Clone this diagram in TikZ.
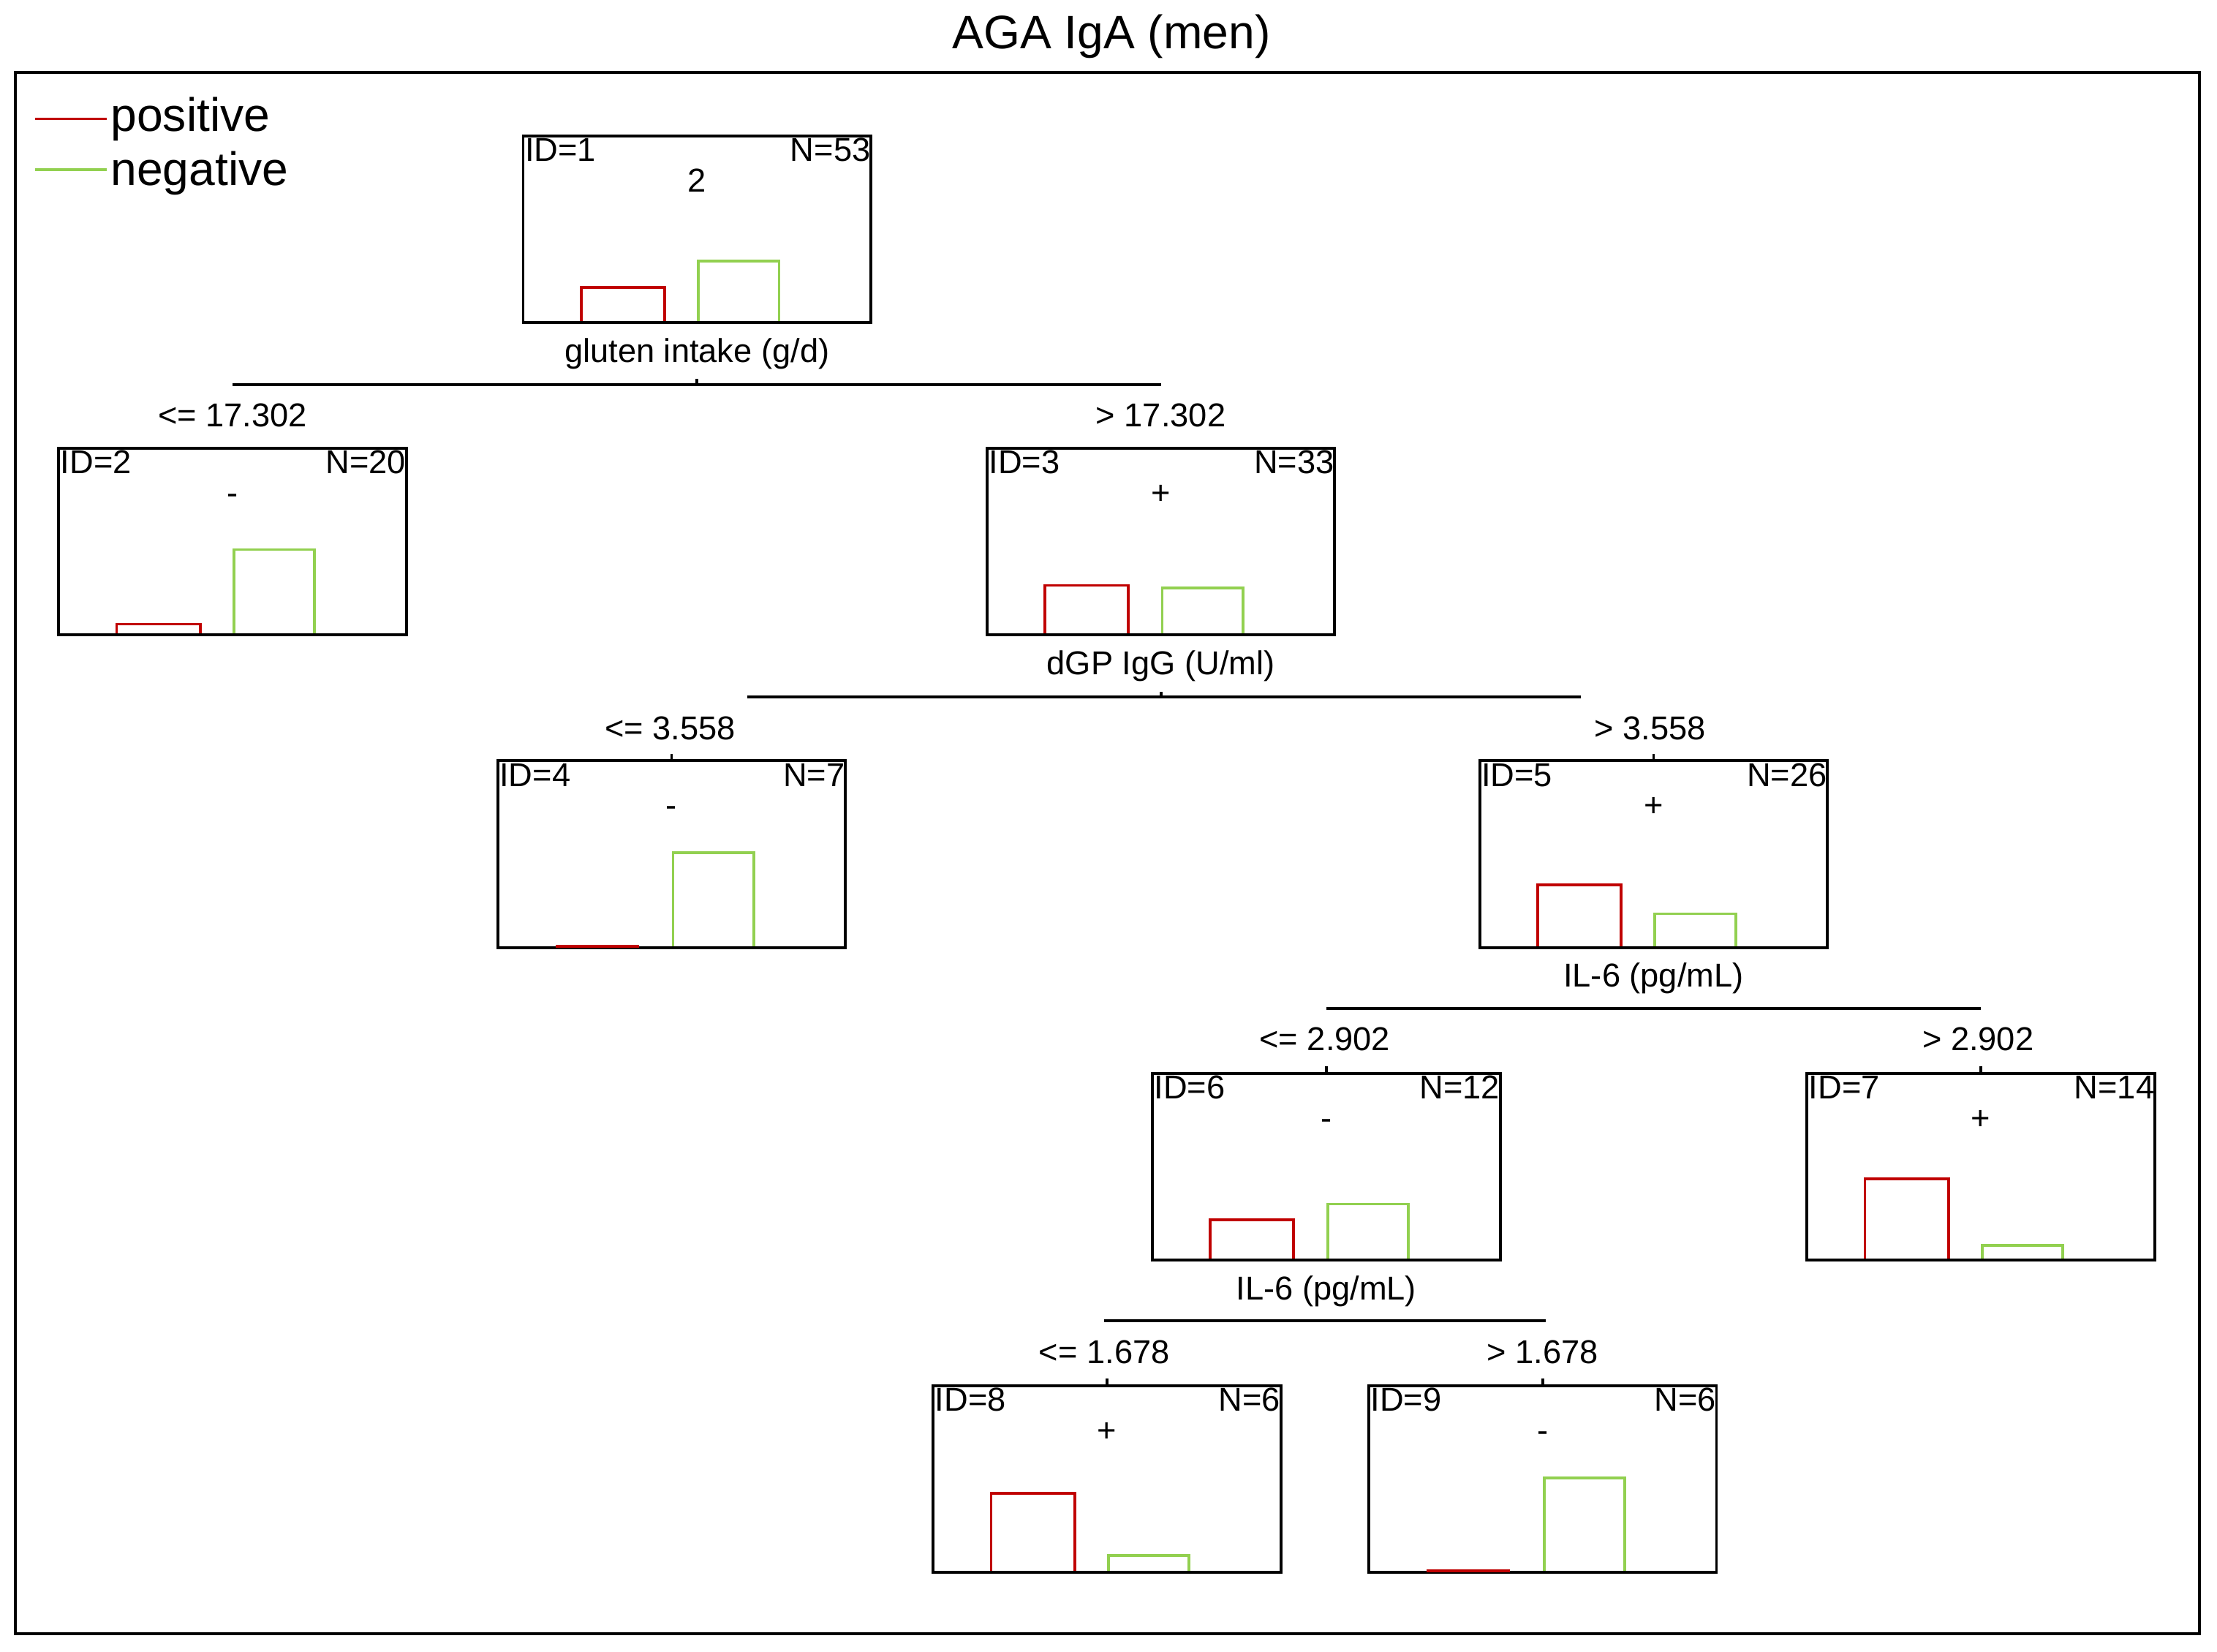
\documentclass[tikz,border=0pt]{standalone}
\usepackage{fontspec}
\setmainfont{Liberation Sans}
\usetikzlibrary{positioning}
\definecolor{posred}{RGB}{192,0,0}
\definecolor{neggreen}{RGB}{146,208,80}
\tikzset{
  leaf/.style={draw, line width=1pt, minimum width=123pt, minimum height=66pt, inner sep=0pt, anchor=north},
  lbl/.style={font=\fontsize{11.7}{14}\selectfont, inner sep=0pt},
  bigtxt/.style={font=\fontsize{16.6}{20}\selectfont, inner sep=0pt},
  split/.style={line width=1pt},
  bar/.style={line width=1pt},
}
\begin{document}
\begin{tikzpicture}[x=0.5pt,y=0.5pt,yscale=-1,xscale=1]
\useasboundingbox (0,0) rectangle (1568,1168);
%Title and frame
\node[bigtxt, anchor=base] (title) at (786,34.5) {AGA IgA (men)};
\draw[line width=1pt] (10.7,51) rectangle (1555.5,1155.5);
%Legend
\coordinate (lp0) at (25,84); \coordinate (lp1) at (75.5,84);
\coordinate (ln0) at (25,120); \coordinate (ln1) at (75.5,120);
\draw[bar, posred] (lp0) -- (lp1);
\draw[bar, neggreen] (ln0) -- (ln1);
\node[bigtxt, anchor=base west] (lpos) at (78,93) {positive};
\node[bigtxt, anchor=base west] (lneg) at (78,131) {negative};
%Tree nodes: id/center x/top y/N/class/positives
\foreach \id/\cx/\ty/\n/\cls/\p in {1/493/95/53/2/19, 2/164.5/316/20/-/2, 3/821/316/33/+/17,
    4/475/537/7/-/0, 5/1169.5/537/26/+/17, 6/938/758/12/-/5, 7/1401/758/14/+/12,
    8/783/979/6/+/5, 9/1091/979/6/-/0}
{
  \node[leaf] (n\id) at (\cx,\ty) {};
  \node[lbl, anchor=base west] (id\id) at (\cx-122,\ty+19) {ID=\id};
  \node[lbl, anchor=base east] (nn\id) at (\cx+123,\ty+19) {N=\n};
  \node[lbl, anchor=base] (c\id) at (\cx,\ty+40.5) {\cls};
  \pgfmathsetmacro\hp{66*\p/\n}
  \pgfmathsetmacro\hq{66*(\n-\p)/\n}
  \draw[bar, posred] (\cx-82,\ty+132) -- (\cx-82,\ty+132-\hp) -- (\cx-23,\ty+132-\hp) -- (\cx-23,\ty+132);
  \draw[bar, neggreen] (\cx+1,\ty+132) -- (\cx+1,\ty+132-\hq) -- (\cx+58,\ty+132-\hq) -- (\cx+58,\ty+132);
  \ifnum\id>3 \draw[split] (n\id.north) -- ++(0,-4); \fi
}
%Split at node 1
\node[lbl, anchor=base] (v1) at (493,256) {gluten intake (g/d)};
\coordinate (s1l) at (164.5,272); \coordinate (s1r) at (821,272);
\draw[split] (s1l) -- (s1r);
\draw[split] (n1.south |- s1l) -- ++(0,-4);
\node[lbl, anchor=base] (t2) at (164.5,302) {<= 17.302};
\node[lbl, anchor=base] (t3) at (821,302) {> 17.302};
%Split at node 3
\node[lbl, anchor=base] (v3) at (821,477) {dGP IgG (U/ml)};
\coordinate (s3l) at (528.5,493); \coordinate (s3r) at (1118,493);
\draw[split] (s3l) -- (s3r);
\draw[split] (n3.south |- s3l) -- ++(0,-4);
\node[lbl, anchor=base] (t4) at (474,523) {<= 3.558};
\node[lbl, anchor=base] (t5) at (1167,523) {> 3.558};
%Split at node 5
\node[lbl, anchor=base] (v5) at (1169.5,698) {IL-6 (pg/mL)};
\coordinate (s5l) at (938,713); \coordinate (s5r) at (1401,713);
\draw[split] (s5l) -- (s5r);
\node[lbl, anchor=base] (t6) at (937,743) {<= 2.902};
\node[lbl, anchor=base] (t7) at (1399,743) {> 2.902};
%Split at node 6
\node[lbl, anchor=base] (v6) at (938,919) {IL-6 (pg/mL)};
\coordinate (s6l) at (781,934); \coordinate (s6r) at (1093,934);
\draw[split] (s6l) -- (s6r);
\node[lbl, anchor=base] (t8) at (781,964) {<= 1.678};
\node[lbl, anchor=base] (t9) at (1091,964) {> 1.678};
\end{tikzpicture}
\end{document}
